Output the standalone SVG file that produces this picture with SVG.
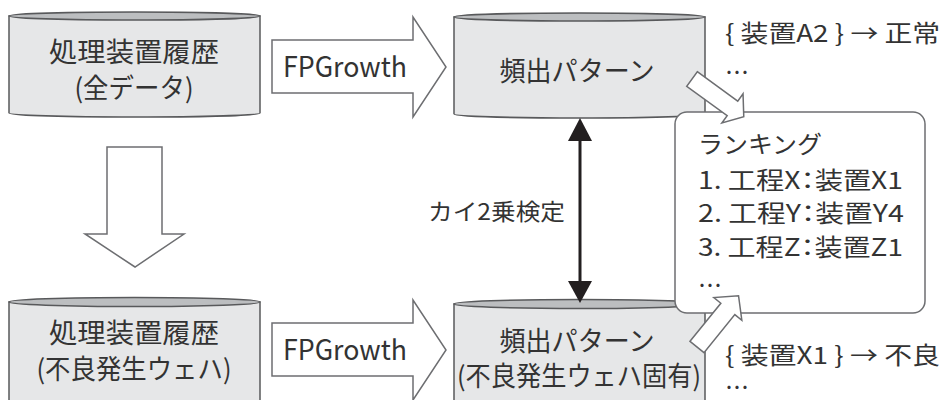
<svg xmlns="http://www.w3.org/2000/svg" width="943" height="400" viewBox="0 0 943 400">
<style>
.body{fill:#e6e7e8;stroke:#58595b;stroke-width:1.5}
.lid{fill:#bcbec0;stroke:#58595b;stroke-width:1.5}
.blk{fill:#fff;stroke:#6d6e71;stroke-width:1.5;stroke-linejoin:miter}
.t{font-family:"Noto Sans CJK JP","Noto Sans",sans-serif;fill:#333}
.c{text-anchor:middle}
</style>
<rect width="943" height="400" fill="#fff"/>
<g id="hist-all">
<path class="body" d="M9,16 L9,113 A125.5,4 0 0 0 260,113 L260,16 Z"/>
<ellipse class="lid" cx="134.5" cy="16" rx="125.5" ry="4"/>
<text class="t c" x="134" y="62" font-size="27" textLength="170" lengthAdjust="spacingAndGlyphs">処理装置履歴</text>
<text class="t c" x="134" y="98" font-size="27" textLength="119" lengthAdjust="spacingAndGlyphs">(全データ)</text>
</g>
<g id="pattern-all">
<path class="body" d="M454,17 L454,114 A125.5,4 0 0 0 705,114 L705,17 Z"/>
<ellipse class="lid" cx="579.5" cy="17" rx="125.5" ry="4"/>
<text class="t c" x="577" y="81" font-size="27" textLength="155" lengthAdjust="spacingAndGlyphs">頻出パターン</text>
</g>
<g id="hist-bad">
<path class="body" d="M9,302 L9,410 L260,410 L260,302 Z"/>
<ellipse class="lid" cx="134.5" cy="302" rx="125.5" ry="4.5"/>
<text class="t c" x="134" y="343" font-size="27" textLength="170" lengthAdjust="spacingAndGlyphs">処理装置履歴</text>
<text class="t c" x="134" y="379" font-size="27" textLength="195" lengthAdjust="spacingAndGlyphs">(不良発生ウェハ)</text>
</g>
<g id="pattern-bad">
<path class="body" d="M454,304 L454,410 L705,410 L705,304 Z"/>
<ellipse class="lid" cx="579.5" cy="304" rx="125.5" ry="4.5"/>
<text class="t c" x="577" y="351" font-size="27" textLength="155" lengthAdjust="spacingAndGlyphs">頻出パターン</text>
<text class="t c" x="579" y="386" font-size="27" textLength="244" lengthAdjust="spacingAndGlyphs">(不良発生ウェハ固有)</text>
</g>
<g id="ranking">
<rect x="675" y="112" width="250" height="201" rx="12" fill="#fff" stroke="#6d6e71" stroke-width="1.5"/>
<text class="t" x="698" y="153" font-size="24" textLength="124" lengthAdjust="spacingAndGlyphs">ランキング</text>
<text class="t" x="698" y="189" font-size="24" textLength="205" lengthAdjust="spacingAndGlyphs">1. 工程X<tspan dx="-6">：</tspan><tspan dx="-6">装置X1</tspan></text>
<text class="t" x="698" y="222" font-size="24" textLength="206" lengthAdjust="spacingAndGlyphs">2. 工程Y<tspan dx="-6">：</tspan><tspan dx="-6">装置Y4</tspan></text>
<text class="t" x="698" y="256" font-size="24" textLength="205" lengthAdjust="spacingAndGlyphs">3. 工程Z<tspan dx="-6">：</tspan><tspan dx="-6">装置Z1</tspan></text>
<text class="t" x="698" y="294" font-size="24">…</text>
</g>
<g id="rule-normal">
<text class="t" x="725" y="42" font-size="24" textLength="215" lengthAdjust="spacingAndGlyphs">{ 装置A2 } → 正常</text>
<text class="t" x="725" y="81" font-size="24">…</text>
</g>
<g id="rule-bad">
<text class="t" x="725" y="364" font-size="24" textLength="215" lengthAdjust="spacingAndGlyphs">{ 装置X1 } → 不良</text>
<text class="t" x="725" y="396" font-size="24">…</text>
</g>
<g id="connectors">
<polygon class="blk" points="272,40 413,40 413,17 446,67 413,117 413,93 272,93"/>
<text class="t c" x="345" y="77" font-size="28" textLength="124" lengthAdjust="spacingAndGlyphs">FPGrowth</text>
<polygon class="blk" points="272,323 413,323 413,300 446,350 413,400 413,376 272,376"/>
<text class="t c" x="345" y="360" font-size="28" textLength="124" lengthAdjust="spacingAndGlyphs">FPGrowth</text>
<polygon class="blk" points="107,147 162,147 162,234 184,234 135,267 85,234 107,234"/>
<line x1="580" y1="136" x2="580" y2="286" stroke="#231f20" stroke-width="3"/>
<polygon points="580,118 568,141 592,141" fill="#231f20"/>
<polygon points="580,303 568,281 592,281" fill="#231f20"/>
<text class="t" x="428" y="220" font-size="23" textLength="137" lengthAdjust="spacingAndGlyphs">カイ2乗検定</text>
<polygon class="blk" points="0,-9 50,-9 50,-18 64,0 50,18 50,9 0,9" transform="translate(692,79) rotate(36)"/>
<polygon class="blk" points="0,-9 49,-9 49,-18 66,0 49,18 49,9 0,9" transform="translate(697,347) rotate(-51)"/>
</g>
</svg>
